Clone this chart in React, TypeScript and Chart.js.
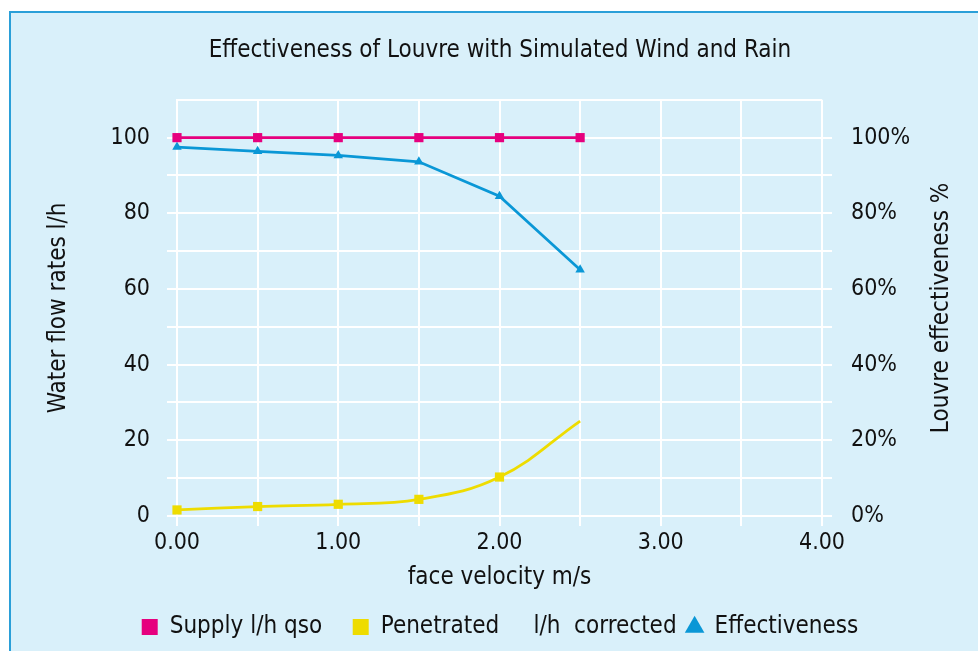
import React, { useEffect, useRef } from "react";
import { Chart, registerables } from "chart.js";

Chart.register(...registerables);

const velocity = [0, 0.5, 1.0, 1.5, 2.0, 2.5];
const supply = [100, 100, 100, 100, 100, 100];
const penetrated = [1.6, 2.5, 3.1, 4.4, 10.3, 25.1];
const effectiveness = [0.975, 0.964, 0.953, 0.936, 0.845, 0.651];

const titleText = "Effectiveness of Louvre with Simulated Wind and Rain";
const xTitle = "face velocity m/s";
const yTitle = "Water flow rates l/h";
const y1Title = "Louvre effectiveness %";
const seriesLabels = ["Supply l/h qso   ", "Penetrated     l/h  corrected", "Effectiveness"];

const FONT = "'DejaVu Sans Condensed', 'DejaVu Sans', sans-serif";
const PINK = "#e6007e";
const YELLOW = "#eedc00";
const BLUE = "#0a97d6";
const BG = "#d9f0fa";
const TXT = "#111111";

export default function App() {
  const ref = useRef<HTMLCanvasElement | null>(null);

  useEffect(() => {
    if (!ref.current) return;
    const rightTitle = {
      id: "rightTitle",
      afterDraw(chart: any) {
        const ctx = chart.ctx;
        const area = chart.chartArea;
        ctx.save();
        ctx.translate(942, (area.top + area.bottom) / 2);
        ctx.rotate(-Math.PI / 2);
        ctx.font = `24px ${FONT}`;
        ctx.fillStyle = TXT;
        ctx.textAlign = "center";
        ctx.textBaseline = "middle";
        ctx.fillText(y1Title, 0, 0);
        ctx.restore();
      },
    };

    const tickCol = (c: any) => {
      if (!c.tick) return "#ffffff";
      const v = Math.round(c.tick.value * 1000);
      return v === 110000 || v === 1100 ? "rgba(0,0,0,0)" : "#ffffff";
    };

    const chart = new Chart(ref.current, {
      type: "line",
      data: {
        datasets: [
          {
            label: seriesLabels[0],
            data: velocity.map((x, i) => ({ x, y: supply[i] })),
            yAxisID: "y",
            borderColor: PINK,
            backgroundColor: PINK,
            borderWidth: 2.75,
            pointStyle: "rect",
            pointRadius: 6.5,
            pointBorderWidth: 0,
            clip: false,
          },
          {
            label: seriesLabels[1],
            data: velocity.map((x, i) => ({ x, y: penetrated[i] })),
            yAxisID: "y",
            borderColor: YELLOW,
            backgroundColor: YELLOW,
            borderWidth: 2.75,
            pointStyle: "rect",
            pointRadius: [6.5, 6.5, 6.5, 6.5, 6.5, 0],
            pointBorderWidth: 0,
            tension: 0.4,
            clip: false,
          },
          {
            label: seriesLabels[2],
            data: velocity.map((x, i) => ({ x, y: effectiveness[i] })),
            yAxisID: "y1",
            borderColor: BLUE,
            backgroundColor: BLUE,
            borderWidth: 2.75,
            pointStyle: "triangle",
            pointRadius: 5.5,
            pointBorderWidth: 0,
            clip: false,
          },
        ],
      },
      options: {
        responsive: false,
        animation: false,
        devicePixelRatio: 1,
        layout: { padding: { left: 22, right: 0, top: 0, bottom: 2 } },
        plugins: {
          title: {
            display: true,
            text: titleText,
            color: TXT,
            font: { family: FONT, size: 24, weight: "normal", lineHeight: 1.2 },
            padding: { top: 36, bottom: 35 },
          },
          legend: {
            position: "bottom",
            labels: {
              usePointStyle: true,
              boxWidth: 16,
              boxHeight: 16,
              padding: 10,
              color: TXT,
              font: { family: FONT, size: 24 },
            },
          },
          tooltip: { enabled: false },
        },
        scales: {
          x: {
            type: "linear",
            min: 0,
            max: 4,
            ticks: {
              stepSize: 0.5,
              autoSkip: false,
              maxRotation: 0,
              padding: 3,
              color: TXT,
              font: { family: FONT, size: 23 },
              callback: (v: any) => (Math.round(v * 100) % 100 === 0 ? Number(v).toFixed(2) : ""),
            },
            grid: { color: "#ffffff", lineWidth: 2, tickLength: 10, tickColor: "#ffffff" },
            border: { color: "#ffffff", width: 2 },
            title: {
              display: true,
              text: xTitle,
              color: TXT,
              font: { family: FONT, size: 24, lineHeight: 1.2 },
              padding: { top: 6, bottom: 13 },
            },
            afterFit: (s: any) => {
              s.height = 89;
            },
          },
          y: {
            position: "left",
            min: 0,
            max: 110,
            ticks: {
              stepSize: 10,
              autoSkip: false,
              padding: 17,
              color: TXT,
              font: { family: FONT, size: 23 },
              callback: (v: any) => (Math.round(v) % 20 === 0 && v <= 100 ? String(v) : ""),
            },
            grid: { color: "#ffffff", lineWidth: 2, tickLength: 10, tickColor: tickCol },
            border: { color: "#ffffff", width: 2 },
            title: {
              display: true,
              text: yTitle,
              color: TXT,
              font: { family: FONT, size: 24, lineHeight: 1.2 },
              padding: { top: 22, bottom: 0 },
            },
            afterFit: (s: any) => {
              s.width = 155;
            },
          },
          y1: {
            position: "right",
            min: 0,
            max: 1.1,
            ticks: {
              stepSize: 0.1,
              autoSkip: false,
              padding: 19,
              color: TXT,
              font: { family: FONT, size: 23 },
              callback: (v: any) => {
                const p = Math.round(v * 100);
                return p % 20 === 0 && p <= 100 ? `${p}%` : "";
              },
            },
            grid: {
              drawOnChartArea: false,
              lineWidth: 2,
              tickLength: 10,
              tickColor: tickCol,
              color: "#ffffff",
            },
            border: { display: false },
            afterFit: (s: any) => {
              s.width = 156;
            },
          },
        },
      },
      plugins: [rightTitle],
    } as any);
    return () => chart.destroy();
  }, []);

  return (
    <div style={{ position: "fixed", left: 0, top: 0, width: 978, height: 651, overflow: "hidden", background: "#ffffff" }}>
      <div
        style={{
          position: "absolute",
          left: 9,
          top: 11,
          width: 1100,
          height: 800,
          background: BG,
          borderLeft: "2px solid #2a9fd8",
          borderTop: "2px solid #2a9fd8",
        }}
      />
      <canvas
        ref={ref}
        width={978}
        height={651}
        style={{ position: "absolute", left: 0, top: 0, width: 978, height: 651 }}
      />
    </div>
  );
}
